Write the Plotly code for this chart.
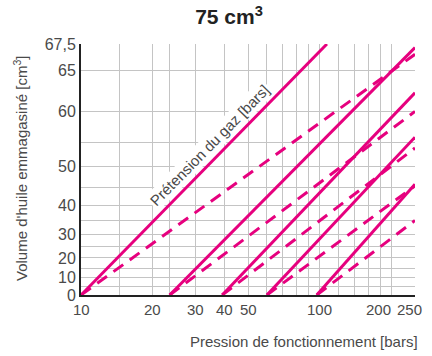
import numpy as np
import plotly.graph_objects as go

# Axis definitions
pressure_ticks = [10, 20, 30, 40, 50, 100, 200, 250]
pressure_grid = [10, 14.5, 20, 23.5, 30, 40, 50, 60, 70, 80, 90, 100,
                 120, 140, 160, 180, 200, 250]
volume_ticks = [0, 10, 20, 30, 40, 50, 60, 65, 67.5]
volume_tick_text = ["0", "10", "20", "30", "40", "50", "60", "65", "67,5"]
volume_grid = [5, 15, 25, 35, 45, 55]

# Gas pre-charge pressures [bars] (each line starts at 0 cm3)
precharge = [10, 23.5, 39, 60, 97]

# Solid lines: end point (pressure, stored volume)
solid_end_p = [107, 250, 250, 250, 250]
solid_end_v = [67.5, 67.2, 62.5, 55.9, 45.8]

# Dashed lines: end point (pressure, stored volume)
dashed_end_p = [250, 250, 250, 250, 250]
dashed_end_v = [66.6, 60.0, 53.9, 45.4, 35.0]

V_REF = 78.0


def vscale(v):
    """Vertical scale of the chart: -log10(1 - V/V_ref)."""
    return -np.log10(1.0 - np.asarray(v, dtype=float) / V_REF)


PINK = "#e6007e"
GRID = "#c4c4c4"
TEXT = "#4a4a4a"
FONT = "Liberation Sans, Arial, sans-serif"

# crowded labels at the right end are nudged left so they stay apart
label_nudge = {200: -13, 250: -5}

fig = go.Figure()

for p0, pe, ve in zip(precharge, solid_end_p, solid_end_v):
    fig.add_trace(go.Scatter(
        x=[p0, pe], y=vscale([0, ve]), mode="lines",
        line=dict(color=PINK, width=3), showlegend=False, hoverinfo="skip"))

for p0, pe, ve in zip(precharge, dashed_end_p, dashed_end_v):
    fig.add_trace(go.Scatter(
        x=[p0, pe], y=vscale([0, ve]), mode="lines",
        line=dict(color=PINK, width=3, dash="12px,8px"),
        showlegend=False, hoverinfo="skip"))

y_vals = sorted(volume_ticks + volume_grid)
y_text = [volume_tick_text[volume_ticks.index(v)] if v in volume_ticks else ""
          for v in y_vals]

fig.update_layout(
    width=432, height=356,
    margin=dict(l=81, r=17, t=44, b=61),
    paper_bgcolor="white", plot_bgcolor="white",
    font=dict(family=FONT, size=16, color=TEXT),
    title=dict(text="<b>75 cm<sup>3</sup></b>", x=229 / 432, xanchor="center",
               y=1 - 17 / 356, yanchor="middle", xref="container", yref="container",
               font=dict(family=FONT, size=21, color="#222222")),
    xaxis=dict(type="log", range=[1 - 1e-4, np.log10(250) + 1e-4],
               tickmode="array", tickvals=pressure_grid, showticklabels=False,
               showgrid=True, gridcolor=GRID, gridwidth=1.2,
               showline=True, linecolor="#222222", linewidth=2,
               ticks="", zeroline=False),
    yaxis=dict(range=[0, float(vscale(67.5)) + 1e-4],
               tickmode="array", tickvals=list(vscale(y_vals)), ticktext=y_text,
               showgrid=True, gridcolor=GRID, gridwidth=1.2,
               showline=True, linecolor="#222222", linewidth=2,
               ticks="", zeroline=False, tickfont=dict(size=16)),
)

# Pressure tick labels
for p in pressure_ticks:
    fig.add_annotation(text=str(p), x=np.log10(p), xref="x", y=0, yref="paper",
                       xanchor="center", yanchor="top", yshift=-4,
                       xshift=label_nudge.get(p, 0), showarrow=False,
                       font=dict(family=FONT, size=15, color=TEXT))

# Axis titles
fig.add_annotation(text="Pression de fonctionnement [bars]", xref="paper", yref="paper",
                   x=(420 - 81) / 334, y=(295 - 341) / 251, xanchor="right",
                   yanchor="middle", showarrow=False,
                   font=dict(family=FONT, size=15, color=TEXT))
fig.add_annotation(text="Volume d'huile emmagasiné [cm<sup>3</sup>]", xref="paper",
                   yref="paper", x=(20 - 81) / 334, y=(295 - 168) / 251,
                   xanchor="center", yanchor="middle", textangle=-90,
                   showarrow=False, font=dict(family=FONT, size=15, color=TEXT))

# Label along the first pre-charge line
fig.add_annotation(text="Prétension du gaz [bars]", xref="paper", yref="paper",
                   x=(209 - 81) / 334, y=(295 - 145) / 251, xanchor="center",
                   yanchor="middle", textangle=-45.5, showarrow=False,
                   bgcolor="white", borderpad=1,
                   font=dict(family=FONT, size=15, color=TEXT))

fig.write_html("out.html")
